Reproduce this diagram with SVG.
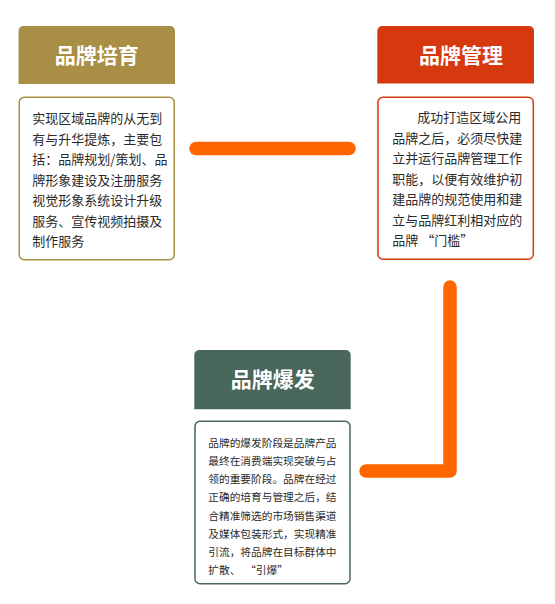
<svg xmlns="http://www.w3.org/2000/svg" width="555" height="604" viewBox="0 0 555 604">
<style>
.title{font-family:"Noto Sans CJK SC","Noto Sans",sans-serif;font-weight:bold;font-size:21px;fill:#ffffff;text-anchor:middle}
.body{font-family:"Noto Sans CJK SC","Noto Sans",sans-serif;font-size:13px;fill:#2b2b2b}
.small{font-family:"Noto Sans CJK SC","Noto Sans",sans-serif;font-size:10.7px;fill:#2b2b2b}
.conn{fill:none;stroke:#ff6600;stroke-width:13.5;stroke-linecap:round;stroke-linejoin:round}
</style>
<rect width="555" height="604" fill="#ffffff"/>
<g id="connectors">
<line class="conn" x1="196" y1="148.5" x2="349" y2="148.5"/>
<polyline class="conn" points="450,287 450,471 366,471"/>
</g>
<g id="node-peiyu">
<path d="M18.5,31 a5,5 0 0 1 5,-5 H170 a5,5 0 0 1 5,5 V84 H18.5 Z" fill="#a88f45"/>
<text class="title" x="96.7" y="62.5">品牌培育</text>
<rect x="19.25" y="97.25" width="155" height="162.5" rx="5" fill="#ffffff" stroke="#a88f45" stroke-width="1.5"/>
<text class="body" x="32.3" y="123">实现区域品牌的从无到</text>
<text class="body" x="32.3" y="143.5">有与升华提炼，主要包</text>
<text class="body" x="32.3" y="164">括：品牌规划/策划、品</text>
<text class="body" x="32.3" y="184.5">牌形象建设及注册服务</text>
<text class="body" x="32.3" y="205">视觉形象系统设计升级</text>
<text class="body" x="32.3" y="225.5">服务、宣传视频拍摄及</text>
<text class="body" x="32.3" y="246">制作服务</text>
</g>
<g id="node-guanli">
<path d="M377.3,31 a5,5 0 0 1 5,-5 H529 a5,5 0 0 1 5,5 V83.5 H377.3 Z" fill="#d6390e"/>
<text class="title" x="461" y="62.5">品牌管理</text>
<rect x="378" y="97.25" width="155.3" height="162" rx="5" fill="#ffffff" stroke="#d6390e" stroke-width="1.5"/>
<text class="body" x="417.3" y="122.3">成功打造区域公用</text>
<text class="body" x="392.3" y="142.8">品牌之后，必须尽快建</text>
<text class="body" x="392.3" y="163.3">立并运行品牌管理工作</text>
<text class="body" x="392.3" y="183.8">职能，以便有效维护初</text>
<text class="body" x="392.3" y="204.3">建品牌的规范使用和建</text>
<text class="body" x="392.3" y="224.8">立与品牌红利相对应的</text>
<text class="body" x="392.3" y="245.3" xml:space="preserve">品牌 “门槛”</text>
</g>
<g id="node-baofa">
<path d="M194.3,355 a5,5 0 0 1 5,-5 H345.7 a5,5 0 0 1 5,5 V409.3 H194.3 Z" fill="#4a675b"/>
<text class="title" x="272.7" y="386.8">品牌爆发</text>
<rect x="195" y="421.25" width="155" height="162.5" rx="5" fill="#ffffff" stroke="#4a675b" stroke-width="1.5"/>
<text class="small" x="208.3" y="446.7">品牌的爆发阶段是品牌产品</text>
<text class="small" x="208.3" y="464.9">最终在消费端实现突破与占</text>
<text class="small" x="208.3" y="483.1">领的重要阶段。品牌在经过</text>
<text class="small" x="208.3" y="501.3">正确的培育与管理之后，结</text>
<text class="small" x="208.3" y="519.5">合精准筛选的市场销售渠道</text>
<text class="small" x="208.3" y="537.7">及媒体包装形式，实现精准</text>
<text class="small" x="208.3" y="555.9">引流，将品牌在目标群体中</text>
<text class="small" x="208.3" y="574.1" xml:space="preserve">扩散、  “引爆”</text>
</g>
</svg>
